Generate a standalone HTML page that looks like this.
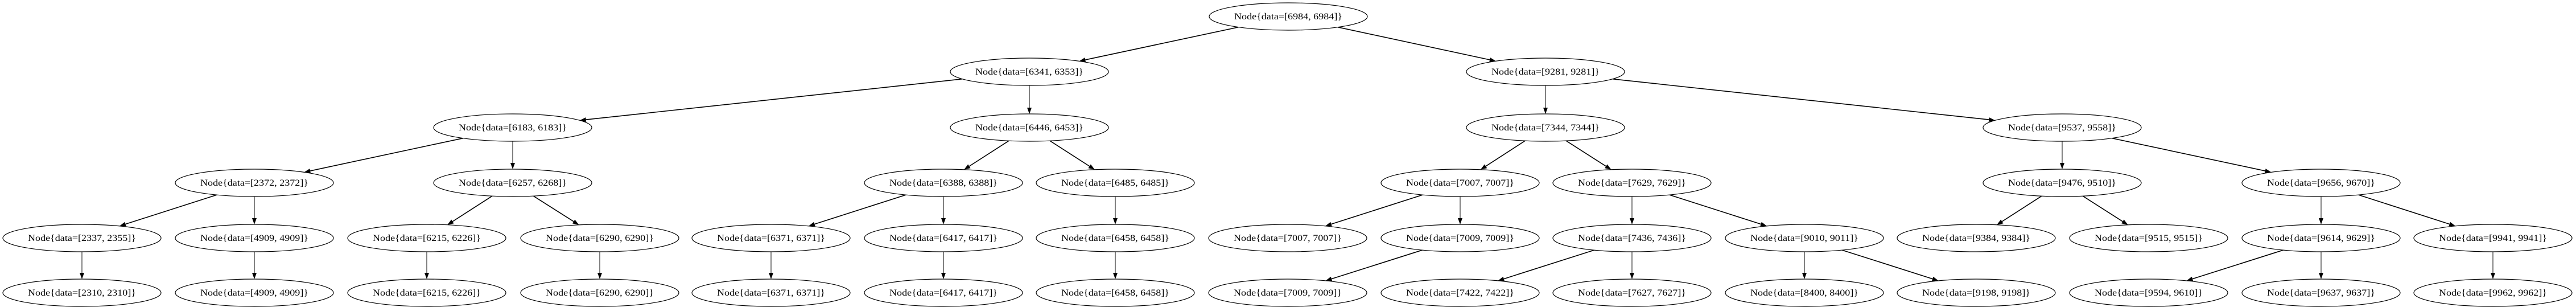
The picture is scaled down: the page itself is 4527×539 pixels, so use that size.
<!DOCTYPE html>
<html><head><meta charset="utf-8"><style>
html,body{margin:0;padding:0;background:#fff;}
svg{display:block;}
text{font-family:"Liberation Serif",serif;font-size:16px;}
</style></head><body>
<svg id="s" width="4527" height="539" viewBox="0 0 4527 539" xmlns="http://www.w3.org/2000/svg">
<g id="edges" stroke="#000" fill="none"></g>
<g id="heads" fill="#000"></g>
<g fill="#fff" stroke="#000" stroke-width="1.2" text-anchor="middle">
<g id="n0"><ellipse cx="2264" cy="29" rx="139" ry="24"/><text x="2264" y="34" stroke="none" fill="#000" textLength="190" lengthAdjust="spacingAndGlyphs">Node{data=[6984, 6984]}</text></g>
<g><ellipse cx="1809" cy="126" rx="139" ry="24"/><text x="1809" y="131" stroke="none" fill="#000" textLength="190" lengthAdjust="spacingAndGlyphs">Node{data=[6341, 6353]}</text></g>
<g><ellipse cx="2716" cy="126" rx="139" ry="24"/><text x="2716" y="131" stroke="none" fill="#000" textLength="190" lengthAdjust="spacingAndGlyphs">Node{data=[9281, 9281]}</text></g>
<g><ellipse cx="901" cy="224" rx="139" ry="24"/><text x="901" y="229" stroke="none" fill="#000" textLength="190" lengthAdjust="spacingAndGlyphs">Node{data=[6183, 6183]}</text></g>
<g><ellipse cx="1809" cy="224" rx="139" ry="24"/><text x="1809" y="229" stroke="none" fill="#000" textLength="190" lengthAdjust="spacingAndGlyphs">Node{data=[6446, 6453]}</text></g>
<g><ellipse cx="2716" cy="224" rx="139" ry="24"/><text x="2716" y="229" stroke="none" fill="#000" textLength="190" lengthAdjust="spacingAndGlyphs">Node{data=[7344, 7344]}</text></g>
<g><ellipse cx="3624" cy="224" rx="139" ry="24"/><text x="3624" y="229" stroke="none" fill="#000" textLength="190" lengthAdjust="spacingAndGlyphs">Node{data=[9537, 9558]}</text></g>
<g><ellipse cx="447" cy="321" rx="139" ry="24"/><text x="447" y="326" stroke="none" fill="#000" textLength="190" lengthAdjust="spacingAndGlyphs">Node{data=[2372, 2372]}</text></g>
<g><ellipse cx="901" cy="321" rx="139" ry="24"/><text x="901" y="326" stroke="none" fill="#000" textLength="190" lengthAdjust="spacingAndGlyphs">Node{data=[6257, 6268]}</text></g>
<g><ellipse cx="1658" cy="321" rx="139" ry="24"/><text x="1658" y="326" stroke="none" fill="#000" textLength="190" lengthAdjust="spacingAndGlyphs">Node{data=[6388, 6388]}</text></g>
<g><ellipse cx="1960" cy="321" rx="139" ry="24"/><text x="1960" y="326" stroke="none" fill="#000" textLength="190" lengthAdjust="spacingAndGlyphs">Node{data=[6485, 6485]}</text></g>
<g><ellipse cx="2566" cy="321" rx="139" ry="24"/><text x="2566" y="326" stroke="none" fill="#000" textLength="190" lengthAdjust="spacingAndGlyphs">Node{data=[7007, 7007]}</text></g>
<g><ellipse cx="2868" cy="321" rx="139" ry="24"/><text x="2868" y="326" stroke="none" fill="#000" textLength="190" lengthAdjust="spacingAndGlyphs">Node{data=[7629, 7629]}</text></g>
<g><ellipse cx="3624" cy="321" rx="139" ry="24"/><text x="3624" y="326" stroke="none" fill="#000" textLength="190" lengthAdjust="spacingAndGlyphs">Node{data=[9476, 9510]}</text></g>
<g><ellipse cx="4079" cy="321" rx="139" ry="24"/><text x="4079" y="326" stroke="none" fill="#000" textLength="190" lengthAdjust="spacingAndGlyphs">Node{data=[9656, 9670]}</text></g>
<g><ellipse cx="144" cy="418" rx="139" ry="24"/><text x="144" y="423" stroke="none" fill="#000" textLength="190" lengthAdjust="spacingAndGlyphs">Node{data=[2337, 2355]}</text></g>
<g><ellipse cx="447" cy="418" rx="139" ry="24"/><text x="447" y="423" stroke="none" fill="#000" textLength="190" lengthAdjust="spacingAndGlyphs">Node{data=[4909, 4909]}</text></g>
<g><ellipse cx="750" cy="418" rx="139" ry="24"/><text x="750" y="423" stroke="none" fill="#000" textLength="190" lengthAdjust="spacingAndGlyphs">Node{data=[6215, 6226]}</text></g>
<g><ellipse cx="1054" cy="418" rx="139" ry="24"/><text x="1054" y="423" stroke="none" fill="#000" textLength="190" lengthAdjust="spacingAndGlyphs">Node{data=[6290, 6290]}</text></g>
<g><ellipse cx="1355" cy="418" rx="139" ry="24"/><text x="1355" y="423" stroke="none" fill="#000" textLength="190" lengthAdjust="spacingAndGlyphs">Node{data=[6371, 6371]}</text></g>
<g><ellipse cx="1658" cy="418" rx="139" ry="24"/><text x="1658" y="423" stroke="none" fill="#000" textLength="190" lengthAdjust="spacingAndGlyphs">Node{data=[6417, 6417]}</text></g>
<g><ellipse cx="1960" cy="418" rx="139" ry="24"/><text x="1960" y="423" stroke="none" fill="#000" textLength="190" lengthAdjust="spacingAndGlyphs">Node{data=[6458, 6458]}</text></g>
<g><ellipse cx="2263" cy="418" rx="139" ry="24"/><text x="2263" y="423" stroke="none" fill="#000" textLength="190" lengthAdjust="spacingAndGlyphs">Node{data=[7007, 7007]}</text></g>
<g><ellipse cx="2566" cy="418" rx="139" ry="24"/><text x="2566" y="423" stroke="none" fill="#000" textLength="190" lengthAdjust="spacingAndGlyphs">Node{data=[7009, 7009]}</text></g>
<g><ellipse cx="2868" cy="418" rx="139" ry="24"/><text x="2868" y="423" stroke="none" fill="#000" textLength="190" lengthAdjust="spacingAndGlyphs">Node{data=[7436, 7436]}</text></g>
<g><ellipse cx="3171" cy="418" rx="139" ry="24"/><text x="3171" y="423" stroke="none" fill="#000" textLength="190" lengthAdjust="spacingAndGlyphs">Node{data=[9010, 9011]}</text></g>
<g><ellipse cx="3473" cy="418" rx="139" ry="24"/><text x="3473" y="423" stroke="none" fill="#000" textLength="190" lengthAdjust="spacingAndGlyphs">Node{data=[9384, 9384]}</text></g>
<g><ellipse cx="3776" cy="418" rx="139" ry="24"/><text x="3776" y="423" stroke="none" fill="#000" textLength="190" lengthAdjust="spacingAndGlyphs">Node{data=[9515, 9515]}</text></g>
<g><ellipse cx="4079" cy="418" rx="139" ry="24"/><text x="4079" y="423" stroke="none" fill="#000" textLength="190" lengthAdjust="spacingAndGlyphs">Node{data=[9614, 9629]}</text></g>
<g><ellipse cx="4381" cy="418" rx="139" ry="24"/><text x="4381" y="423" stroke="none" fill="#000" textLength="190" lengthAdjust="spacingAndGlyphs">Node{data=[9941, 9941]}</text></g>
<g><ellipse cx="144" cy="514" rx="139" ry="24"/><text x="144" y="519" stroke="none" fill="#000" textLength="190" lengthAdjust="spacingAndGlyphs">Node{data=[2310, 2310]}</text></g>
<g><ellipse cx="447" cy="514" rx="139" ry="24"/><text x="447" y="519" stroke="none" fill="#000" textLength="190" lengthAdjust="spacingAndGlyphs">Node{data=[4909, 4909]}</text></g>
<g><ellipse cx="750" cy="514" rx="139" ry="24"/><text x="750" y="519" stroke="none" fill="#000" textLength="190" lengthAdjust="spacingAndGlyphs">Node{data=[6215, 6226]}</text></g>
<g><ellipse cx="1054" cy="514" rx="139" ry="24"/><text x="1054" y="519" stroke="none" fill="#000" textLength="190" lengthAdjust="spacingAndGlyphs">Node{data=[6290, 6290]}</text></g>
<g><ellipse cx="1355" cy="514" rx="139" ry="24"/><text x="1355" y="519" stroke="none" fill="#000" textLength="190" lengthAdjust="spacingAndGlyphs">Node{data=[6371, 6371]}</text></g>
<g><ellipse cx="1658" cy="514" rx="139" ry="24"/><text x="1658" y="519" stroke="none" fill="#000" textLength="190" lengthAdjust="spacingAndGlyphs">Node{data=[6417, 6417]}</text></g>
<g><ellipse cx="1960" cy="514" rx="139" ry="24"/><text x="1960" y="519" stroke="none" fill="#000" textLength="190" lengthAdjust="spacingAndGlyphs">Node{data=[6458, 6458]}</text></g>
<g><ellipse cx="2263" cy="514" rx="139" ry="24"/><text x="2263" y="519" stroke="none" fill="#000" textLength="190" lengthAdjust="spacingAndGlyphs">Node{data=[7009, 7009]}</text></g>
<g><ellipse cx="2566" cy="514" rx="139" ry="24"/><text x="2566" y="519" stroke="none" fill="#000" textLength="190" lengthAdjust="spacingAndGlyphs">Node{data=[7422, 7422]}</text></g>
<g><ellipse cx="2868" cy="514" rx="139" ry="24"/><text x="2868" y="519" stroke="none" fill="#000" textLength="190" lengthAdjust="spacingAndGlyphs">Node{data=[7627, 7627]}</text></g>
<g><ellipse cx="3171" cy="514" rx="139" ry="24"/><text x="3171" y="519" stroke="none" fill="#000" textLength="190" lengthAdjust="spacingAndGlyphs">Node{data=[8400, 8400]}</text></g>
<g><ellipse cx="3473" cy="514" rx="139" ry="24"/><text x="3473" y="519" stroke="none" fill="#000" textLength="190" lengthAdjust="spacingAndGlyphs">Node{data=[9198, 9198]}</text></g>
<g><ellipse cx="3776" cy="514" rx="139" ry="24"/><text x="3776" y="519" stroke="none" fill="#000" textLength="190" lengthAdjust="spacingAndGlyphs">Node{data=[9594, 9610]}</text></g>
<g><ellipse cx="4079" cy="514" rx="139" ry="24"/><text x="4079" y="519" stroke="none" fill="#000" textLength="190" lengthAdjust="spacingAndGlyphs">Node{data=[9637, 9637]}</text></g>
<g><ellipse cx="4381" cy="514" rx="139" ry="24"/><text x="4381" y="519" stroke="none" fill="#000" textLength="190" lengthAdjust="spacingAndGlyphs">Node{data=[9962, 9962]}</text></g>
</g>
</svg>
<script>
(function(){
var Y=[29,126,224,321,418,514];
var E=[
[0,2264,1,1809],[0,2264,1,2716],
[1,1809,2,901],[1,1809,2,1809],[1,2716,2,2716],[1,2716,2,3624],
[2,901,3,447],[2,901,3,901],[2,1809,3,1658],[2,1809,3,1960],[2,2716,3,2566],[2,2716,3,2868],[2,3624,3,3624],[2,3624,3,4079],
[3,447,4,144],[3,447,4,447],[3,901,4,750],[3,901,4,1054],[3,1658,4,1355],[3,1658,4,1658],[3,1960,4,1960],
[3,2566,4,2263],[3,2566,4,2566],[3,2868,4,2868],[3,2868,4,3171],[3,3624,4,3473],[3,3624,4,3776],[3,4079,4,4079],[3,4079,4,4381],
[4,144,5,144],[4,447,5,447],[4,750,5,750],[4,1054,5,1054],[4,1355,5,1355],[4,1658,5,1658],[4,1960,5,1960],
[4,2566,5,2263],[4,2868,5,2566],[4,2868,5,2868],[4,3171,5,3171],[4,3171,5,3473],[4,4079,5,3776],[4,4079,5,4079],[4,4381,5,4381]
];
var rx=139,ry=24,ns="http://www.w3.org/2000/svg";
var eg=document.getElementById('edges'),hg=document.getElementById('heads');
function clip(cx,cy,dx,dy){var t=1/Math.sqrt((dx*dx)/(rx*rx)+(dy*dy)/(ry*ry));return [cx+dx*t,cy+dy*t];}
E.forEach(function(e){
 var x1=e[1],y1=Y[e[0]],x2=e[3],y2=Y[e[2]];
 var dx=x2-x1,dy=y2-y1;
 var p=clip(x1,y1,dx,dy),q=clip(x2,y2,-dx,-dy);
 var L=Math.hypot(q[0]-p[0],q[1]-p[1]),ux=(q[0]-p[0])/L,uy=(q[1]-p[1])/L;
 var al=11,aw=4;
 var bx=q[0]-ux*al,by=q[1]-uy*al;
 var l=document.createElementNS(ns,'line');
 l.setAttribute('x1',p[0]);l.setAttribute('y1',p[1]);l.setAttribute('x2',bx);l.setAttribute('y2',by);
 l.setAttribute('stroke-width',dx===0?1:1.6);
 eg.appendChild(l);
 var h=document.createElementNS(ns,'polygon');
 h.setAttribute('points',q[0]+','+q[1]+' '+(bx-uy*aw)+','+(by+ux*aw)+' '+(bx+uy*aw)+','+(by-ux*aw));
 hg.appendChild(h);
});
})();
</script>
</body></html>
